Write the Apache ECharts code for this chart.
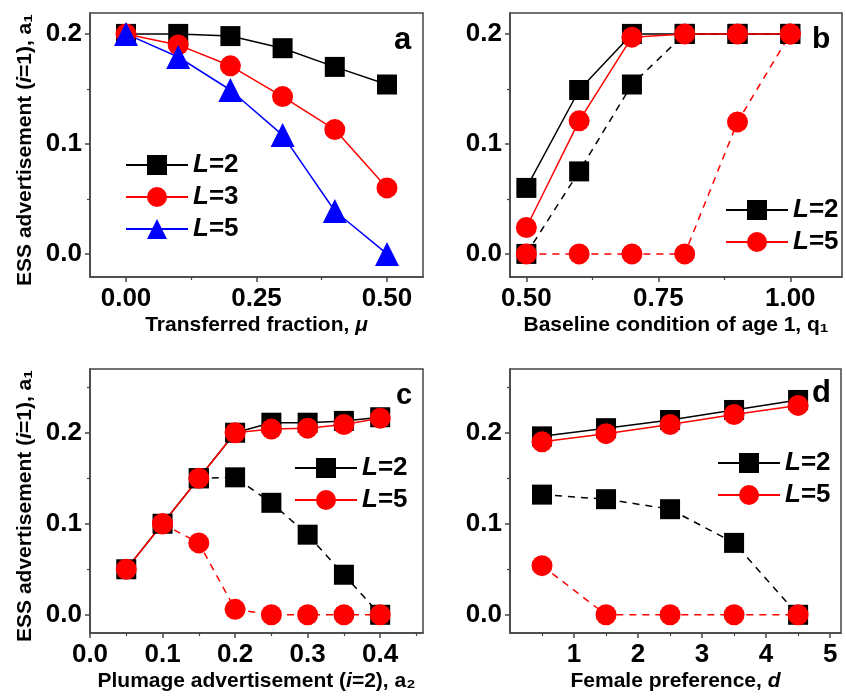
<!DOCTYPE html>
<html>
<head>
<meta charset="utf-8">
<script src="https://cdn.jsdelivr.net/npm/echarts@6/dist/echarts.min.js"></script>
<style>
  html, body { margin: 0; padding: 0; background: #fff; }
  #main { width: 846px; height: 699px; }
</style>
</head>
<body>
<div id="main"></div>
<script>
// panel a: transferred fraction
const aX = [0, 0.1, 0.2, 0.3, 0.4, 0.5]
const aL2 = [0.2, 0.2, 0.198, 0.187, 0.17, 0.154]
const aL3 = [0.2, 0.19, 0.171, 0.143, 0.113, 0.06]
const aL5 = [0.2, 0.179, 0.149, 0.108, 0.039, 0.0]
// panel b: baseline condition
const bX = [0.5, 0.6, 0.7, 0.8, 0.9, 1.0]
const bL2 = [0.06, 0.149, 0.2, 0.2, 0.2, 0.2]
const bL2dash = [0.0, 0.075, 0.154, 0.2, 0.2, 0.2]
const bL5 = [0.024, 0.121, 0.197, 0.2, 0.2, 0.2]
const bL5dash = [0.0, 0.0, 0.0, 0.0, 0.12, 0.2]
// panel c: plumage advertisement
const cX = [0.05, 0.1, 0.15, 0.2, 0.25, 0.3, 0.35, 0.4]
const cL2 = [0.05, 0.1, 0.15, 0.2, 0.211, 0.211, 0.213, 0.217]
const cL2dash = [null, null, 0.15, 0.151, 0.123, 0.088, 0.044, 0.0]
const cL5 = [0.05, 0.1, 0.15, 0.2, 0.204, 0.205, 0.209, 0.216]
const cL5dash = [null, 0.1, 0.079, 0.006, 0.0, 0.0, 0.0, 0.0]
// panel d: female preference
const dX = [0.5, 1.5, 2.5, 3.5, 4.5]
const dL2 = [0.196, 0.205, 0.214, 0.225, 0.236]
const dL2dash = [0.132, 0.127, 0.116, 0.079, 0.0]
const dL5 = [0.19, 0.199, 0.209, 0.22, 0.23]
const dL5dash = [0.054, 0.0, 0.0, 0.0, 0.0]
// ticks
const aTicks = [0, 0.25, 0.5]
const aMinor = [0.125, 0.375]
const bTicks = [0.5, 0.75, 1.0]
const bMinor = [0.625, 0.875]
const cTicks = [0, 0.1, 0.2, 0.3, 0.4]
const cMinor = [0.05, 0.15, 0.25, 0.35, 0.45]
const dTicks = [1, 2, 3, 4, 5]
const dMinor = [0.5, 1.5, 2.5, 3.5, 4.5]
const yTicks = [0, 0.1, 0.2]
const yMinorAB = [0.05, 0.15]
const yMinorCD = [0.05, 0.15, 0.25]

const FONT = 'Liberation Sans, Arial, sans-serif'
const AXIS_COLOR = '#444'

const chart = echarts.init(document.getElementById('main'))

function pairs(xs, ys) {
  return xs.map((x, i) => [x, ys[i]]).filter(p => p[1] !== null)
}

const nameRich = {
  n: { fontFamily: FONT, fontWeight: 'bold', fontSize: 21, color: '#000' },
  i: { fontFamily: FONT, fontWeight: 'bold', fontStyle: 'italic', fontSize: 21, color: '#000' },
}

function mainX(grid, min, max, ticks, name, show) {
  return {
    type: 'value', gridIndex: grid, min: min, max: max, position: 'bottom',
    name: name, nameLocation: 'middle', nameGap: 38,
    nameTextStyle: { rich: nameRich },
    axisLine: { show: true, onZero: false, lineStyle: { color: AXIS_COLOR, width: 1.5 } },
    axisTick: { show: true, inside: false, length: 5, customValues: ticks, lineStyle: { color: AXIS_COLOR, width: 1.5 } },
    axisLabel: {
      show: true, customValues: ticks, margin: 9,
      fontFamily: FONT, fontWeight: 'bold', fontSize: 26, color: '#000',
      formatter: v => show(v),
    },
    splitLine: { show: false },
  }
}
function minorX(grid, min, max, ticks) {
  return {
    type: 'value', gridIndex: grid, min: min, max: max, position: 'bottom',
    axisLine: { show: false, onZero: false },
    axisTick: { show: true, length: 3, customValues: ticks, lineStyle: { color: AXIS_COLOR, width: 1.2 } },
    axisLabel: { show: false },
    splitLine: { show: false },
  }
}
function mainY(grid, min, max, name) {
  return {
    type: 'value', gridIndex: grid, min: min, max: max, position: 'left',
    name: name, nameLocation: 'middle', nameGap: 54, nameRotate: 90,
    nameTextStyle: { rich: nameRich, padding: [0, 10, 0, 0] },
    axisLine: { show: true, onZero: false, lineStyle: { color: AXIS_COLOR, width: 1.5 } },
    axisTick: { show: true, length: 5, customValues: yTicks, lineStyle: { color: AXIS_COLOR, width: 1.5 } },
    axisLabel: {
      show: true, customValues: yTicks, margin: 8,
      fontFamily: FONT, fontWeight: 'bold', fontSize: 26, color: '#000',
      formatter: v => v.toFixed(1),
    },
    splitLine: { show: false },
  }
}
function minorY(grid, min, max, ticks) {
  return {
    type: 'value', gridIndex: grid, min: min, max: max, position: 'left',
    axisLine: { show: false, onZero: false },
    axisTick: { show: true, length: 3, customValues: ticks, lineStyle: { color: AXIS_COLOR, width: 1.2 } },
    axisLabel: { show: false },
    splitLine: { show: false },
  }
}

function line(name, axis, data, color, symbol, size, dashed) {
  return {
    name: name, type: 'line', xAxisIndex: axis, yAxisIndex: axis,
    data: data, symbol: symbol, symbolSize: size, showSymbol: true,
    lineStyle: { color: color, width: 1.5, type: dashed ? [7, 6] : 'solid' },
    itemStyle: { color: color },
    animation: false,
  }
}

const yName = '{n|ESS advertisement (}{i|i}{n|=1), a₁}'

function legend(names, left, top) {
  return {
    data: names, left: left, top: top, orient: 'vertical',
    itemWidth: 62, itemHeight: 25, itemGap: 6, selectedMode: false,
    textStyle: {
      fontFamily: FONT, fontWeight: 'bold', fontSize: 26, color: '#000',
      rich: {
        i: { fontFamily: FONT, fontWeight: 'bold', fontStyle: 'italic', fontSize: 26, color: '#000' },
        n: { fontFamily: FONT, fontWeight: 'bold', fontSize: 26, color: '#000' },
      },
    },
    formatter: n => '{i|L}{n|=' + n.split('=')[1] + '}',
  }
}

function letter(t, left, top, size) {
  return { text: t, left: left, top: top, textStyle: { fontFamily: FONT, fontWeight: 'bold', fontSize: size, color: '#000' } }
}

const option = {
  backgroundColor: '#fff',
  animation: false,
  title: [
    letter('a', 389, 20, 31),
    letter('b', 807, 20, 30),
    letter('c', 391, 376, 29),
    letter('d', 807, 373, 31),
  ],
  legend: [
    legend(['a:L=2', 'a:L=3', 'a:L=5'], 120, 147),
    legend(['b:L=2', 'b:L=5'], 720, 192),
    legend(['c:L=2', 'c:L=5'], 289, 450),
    legend(['d:L=2', 'd:L=5'], 712, 445),
  ],
  grid: [
    { left: 90, top: 13, width: 333, height: 264, show: true, borderColor: AXIS_COLOR, borderWidth: 1.5 },
    { left: 510, top: 13, width: 332, height: 264, show: true, borderColor: AXIS_COLOR, borderWidth: 1.5 },
    { left: 90, top: 369, width: 333, height: 264, show: true, borderColor: AXIS_COLOR, borderWidth: 1.5 },
    { left: 510, top: 369, width: 331, height: 264, show: true, borderColor: AXIS_COLOR, borderWidth: 1.5 },
  ],
  xAxis: [
    mainX(0, -0.069, 0.569, aTicks, '{n|Transferred fraction, }{i|μ}', v => v.toFixed(2)),
    mainX(1, 0.469, 1.098, bTicks, '{n|Baseline condition of age 1, q₁}', v => v.toFixed(2)),
    mainX(2, 0, 0.459, cTicks, '{n|Plumage advertisement (}{i|i}{n|=2), a₂}', v => v.toFixed(1)),
    mainX(3, 0, 5.17, dTicks, '{n|Female preference, }{i|d}', v => String(v)),
    minorX(0, -0.069, 0.569, aMinor),
    minorX(1, 0.469, 1.098, bMinor),
    minorX(2, 0, 0.459, cMinor),
    minorX(3, 0, 5.17, dMinor),
  ],
  yAxis: [
    mainY(0, -0.021, 0.219, yName),
    mainY(1, -0.021, 0.219, ''),
    mainY(2, -0.02, 0.27, yName),
    mainY(3, -0.02, 0.27, ''),
    minorY(0, -0.021, 0.219, yMinorAB),
    minorY(1, -0.021, 0.219, yMinorAB),
    minorY(2, -0.02, 0.27, yMinorCD),
    minorY(3, -0.02, 0.27, yMinorCD),
  ],
  series: [
    line('a:L=2', 0, pairs(aX, aL2), '#000', 'rect', 20, false),
    line('a:L=3', 0, pairs(aX, aL3), '#ff0000', 'circle', 21, false),
    line('a:L=5', 0, pairs(aX, aL5), '#0000ff', 'triangle', 24, false),

    line('b:L=2', 1, pairs(bX, bL2), '#000', 'rect', 20, false),
    line('b:L=2 dash', 1, pairs(bX, bL2dash), '#000', 'rect', 20, true),
    line('b:L=5', 1, pairs(bX, bL5), '#ff0000', 'circle', 21, false),
    line('b:L=5 dash', 1, pairs(bX, bL5dash), '#ff0000', 'circle', 21, true),

    line('c:L=2', 2, pairs(cX, cL2), '#000', 'rect', 20, false),
    line('c:L=2 dash', 2, pairs(cX, cL2dash), '#000', 'rect', 20, true),
    line('c:L=5', 2, pairs(cX, cL5), '#ff0000', 'circle', 21, false),
    line('c:L=5 dash', 2, pairs(cX, cL5dash), '#ff0000', 'circle', 21, true),

    line('d:L=2', 3, pairs(dX, dL2), '#000', 'rect', 20, false),
    line('d:L=2 dash', 3, pairs(dX, dL2dash), '#000', 'rect', 20, true),
    line('d:L=5', 3, pairs(dX, dL5), '#ff0000', 'circle', 21, false),
    line('d:L=5 dash', 3, pairs(dX, dL5dash), '#ff0000', 'circle', 21, true),
  ],
}
chart.setOption(option)
</script>
</body>
</html>
